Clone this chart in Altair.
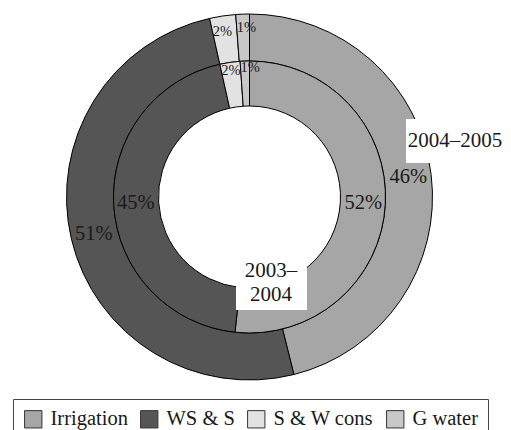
import altair as alt
import pandas as pd

categories = ["Irrigation", "WS & S", "S & W cons", "G water"]
share_2004_2005 = [46.1, 50.4, 2.3, 1.2]
share_2003_2004 = [51.7, 44.8, 2.4, 1.1]
labels_2004_2005 = ["46%", "51%", "2%", "1%"]
labels_2003_2004 = ["52%", "45%", "2%", "1%"]
colors = ["#a6a6a6", "#555555", "#e2e2e2", "#c8c8c8"]
ring_titles = ["2004–2005", "2003–2004"]

rows = []
for year, vals, labs in [("2004–2005", share_2004_2005, labels_2004_2005),
                         ("2003–2004", share_2003_2004, labels_2003_2004)]:
    for i, (c, v, l) in enumerate(zip(categories, vals, labs)):
        rows.append({"year": year, "category": c, "value": v, "label": l, "order": i})
df = pd.DataFrame(rows)

FONT = "Liberation Serif"
CX, CY = 241.5, 189
theta_scale = alt.Scale(domain=[0, 100])
color_scale = alt.Scale(domain=categories, range=colors)


def ring(year, r_out, r_in, legend):
    return alt.Chart(df).transform_filter(alt.datum.year == year).mark_arc(
        radius=r_out, radius2=r_in, stroke="black", strokeWidth=1
    ).encode(
        theta=alt.Theta("value:Q", stack=True, scale=theta_scale),
        color=alt.Color("category:N", scale=color_scale, sort=categories, legend=legend),
        order=alt.Order("order:Q"),
        x=alt.value(CX), y=alt.value(CY),
    )


def ring_labels(year, radius, small):
    cond = "datum.value < 5" if small else "datum.value >= 5"
    field = "v0" if small else "mid"
    return alt.Chart(df).transform_filter(alt.datum.year == year).transform_stack(
        stack="value", groupby=[], as_=["v0", "v1"], sort=[alt.SortField("order")]
    ).transform_calculate(mid="(datum.v0 + datum.v1) / 2").transform_filter(cond).mark_text(
        radius=radius, font=FONT, fontSize=14.5 if small else 20.5, color="#1a1a1a",
        baseline="middle", align="left" if small else "center"
    ).encode(
        theta=alt.Theta(f"{field}:Q", scale=theta_scale),
        text="label:N",
        x=alt.value(CX), y=alt.value(CY),
    )


legend = alt.Legend(
    orient="none", legendX=5, legendY=391, direction="horizontal", title=None,
    symbolType="square", symbolSize=300, symbolStrokeColor="#333", symbolStrokeWidth=1,
    symbolOpacity=1, labelFont=FONT, labelFontSize=20.5, labelColor="#1a1a1a",
    labelOffset=7, columnPadding=10, padding=10, strokeColor="#444", fillColor="white",
)

outer = ring("2004–2005", 183, 136, legend)
inner = ring("2003–2004", 136, 91, None)
outer_lab = ring_labels("2004–2005", 160, False)
outer_small = ring_labels("2004–2005", 169, True)
inner_lab = ring_labels("2003–2004", 114, False)
inner_small = ring_labels("2003–2004", 129, True)

ann = pd.DataFrame({"t": ring_titles})
box1 = alt.Chart(ann).transform_filter(alt.datum.t == "2004–2005").mark_rect(fill="white").encode(
    x=alt.value(398), x2=alt.value(500), y=alt.value(111), y2=alt.value(155))
txt1 = alt.Chart(ann).transform_filter(alt.datum.t == "2004–2005").mark_text(
    font=FONT, fontSize=21, color="#1a1a1a", align="center", baseline="middle").encode(
    x=alt.value(447), y=alt.value(133), text="t:N")
box2 = alt.Chart(ann).transform_filter(alt.datum.t == "2003–2004").mark_rect(fill="white").encode(
    x=alt.value(228), x2=alt.value(299), y=alt.value(248), y2=alt.value(302))
txt2 = alt.Chart(ann).transform_filter(alt.datum.t == "2003–2004").mark_text(
    font=FONT, fontSize=21, color="#1a1a1a", align="center", baseline="middle", lineHeight=24).encode(
    x=alt.value(263), y=alt.value(263), text=alt.value(["2003–", "2004"]))

chart = alt.layer(
    outer, inner, outer_lab, outer_small, inner_lab, inner_small, box1, txt1, box2, txt2
).properties(
    width=495, height=430, padding=0, autosize=alt.AutoSizeParams(type="none")
).configure_view(stroke=None)

chart.save("out.html", embed_options={"renderer": "svg", "actions": False})
